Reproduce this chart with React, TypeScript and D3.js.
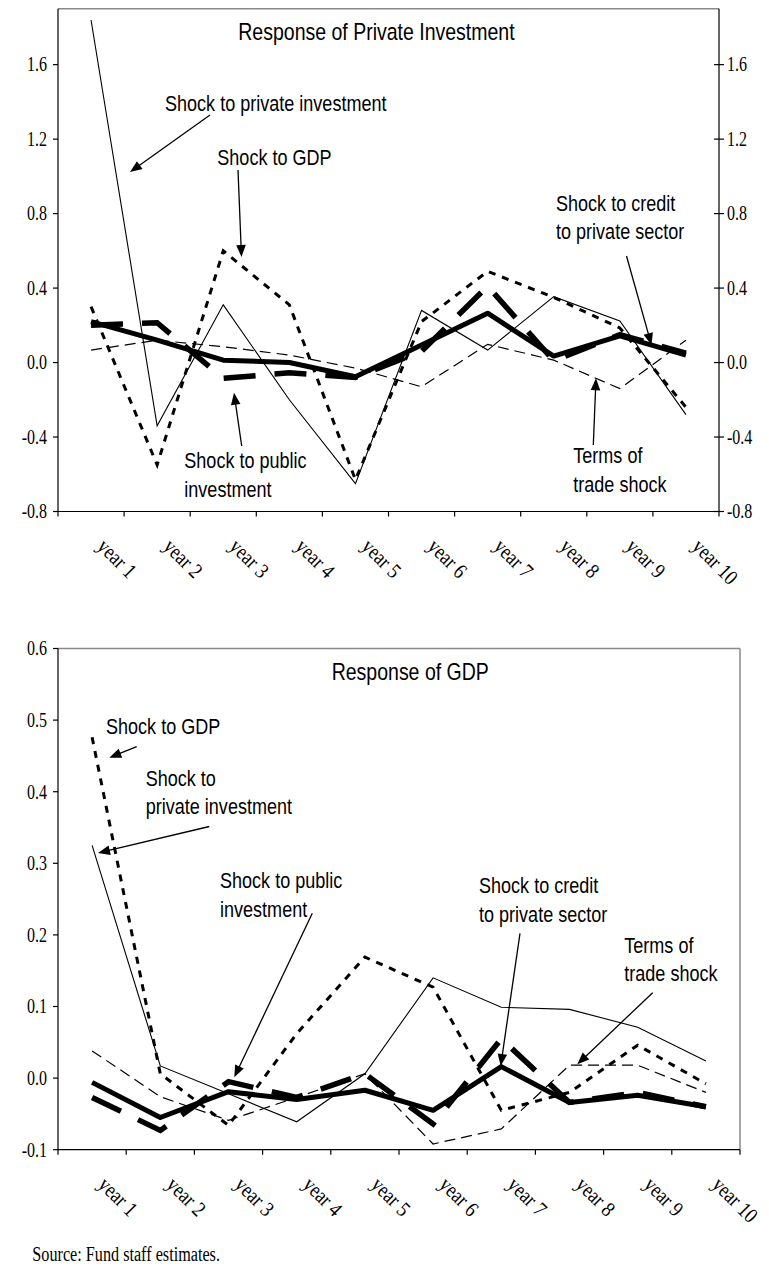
import React from 'react';
import * as d3 from 'd3';

// ---------- data ----------
const years = ['year 1', 'year 2', 'year 3', 'year 4', 'year 5', 'year 6', 'year 7', 'year 8', 'year 9', 'year 10'];

// Response of Private Investment
const piShockPrivInv = [1.84, -0.34, 0.31, -0.2, -0.65, 0.28, 0.067, 0.354, 0.223, -0.28];
const piShockGDP = [0.3, -0.55, 0.6, 0.31, -0.63, 0.22, 0.49, 0.35, 0.186, -0.24];
const piShockPubInv = [0.2, 0.214, -0.085, -0.055, -0.08, 0.06, 0.41, 0.01, 0.15, 0.05];
const piShockCredit = [0.22, 0.12, 0.013, 0.0, -0.076, 0.094, 0.265, 0.035, 0.143, 0.04];
const piShockToT = [0.067, 0.12, 0.085, 0.04, -0.03, -0.13, 0.098, 0.013, -0.14, 0.12];
const piTicks = [-0.8, -0.4, 0.0, 0.4, 0.8, 1.2, 1.6];

// Response of GDP
const gdpShockPrivInv = [0.325, 0.017, -0.022, -0.061, 0.006, 0.14, 0.099, 0.096, 0.071, 0.024];
const gdpShockGDP = [0.476, 0.006, -0.066, 0.062, 0.169, 0.127, -0.045, -0.02, 0.046, -0.008];
const gdpShockPubInv = [-0.027, -0.073, -0.005, -0.027, 0.006, -0.064, 0.055, -0.034, -0.02, -0.04];
const gdpShockCredit = [-0.006, -0.055, -0.019, -0.03, -0.017, -0.045, 0.016, -0.034, -0.024, -0.04];
const gdpShockToT = [0.038, -0.026, -0.059, -0.027, 0.006, -0.092, -0.071, 0.018, 0.018, -0.02];
const gdpTicks = [-0.1, 0.0, 0.1, 0.2, 0.3, 0.4, 0.5, 0.6];

// ---------- styles ----------
const SERIF = "'Liberation Serif','Times New Roman',serif";
const SANS = "'Liberation Sans',Arial,sans-serif";

type SeriesStyle = { width: number; dash?: string; join?: string };
const STYLE_PRIV: SeriesStyle = { width: 1.1 };
const STYLE_GDP: SeriesStyle = { width: 3, dash: '7,7' };
const STYLE_PUB: SeriesStyle = { width: 5.5, dash: '32,19' };
const STYLE_CREDIT: SeriesStyle = { width: 5, join: 'round' };
const STYLE_TOT: SeriesStyle = { width: 1.2, dash: '11,6' };

function Txt(props: {
  x: number; y: number; size: number; serif?: boolean; sx: number;
  anchor?: string; rotate?: number; children: React.ReactNode;
}) {
  const { x, y, size, serif, sx, anchor = 'start', rotate = 0, children } = props;
  return (
    <text
      transform={`translate(${x},${y}) rotate(${rotate}) scale(${sx},1)`}
      fontFamily={serif ? SERIF : SANS}
      fontSize={size}
      textAnchor={anchor}
      fill="#000"
    >
      {children}
    </text>
  );
}

type Ann = { lines: string[]; x: number; y: number; from: [number, number]; to: [number, number] };

function Arrow({ from, to }: { from: [number, number]; to: [number, number] }) {
  const dx = to[0] - from[0];
  const dy = to[1] - from[1];
  const len = Math.sqrt(dx * dx + dy * dy);
  const ux = dx / len, uy = dy / len;
  const hl = 12, hw = 4.8;
  const bx = to[0] - ux * hl, by = to[1] - uy * hl;
  const p1 = [bx - uy * hw, by + ux * hw];
  const p2 = [bx + uy * hw, by - ux * hw];
  return (
    <g>
      <line x1={from[0]} y1={from[1]} x2={bx + ux * 2} y2={by + uy * 2} stroke="#000" strokeWidth={1.3} />
      <polygon points={`${to[0]},${to[1]} ${p1[0]},${p1[1]} ${p2[0]},${p2[1]}`} fill="#000" />
    </g>
  );
}

type ChartProps = {
  x0: number; x1: number; yTop: number; yBottom: number;
  domain: [number, number]; ticks: number[];
  series: { values: number[]; style: SeriesStyle }[];
  rightAxis: boolean;
  title: string; titleX: number; titleY: number;
  annotations: Ann[];
};

function Chart(p: ChartProps) {
  const x = d3.scaleBand<string>().domain(years).range([p.x0, p.x1]).padding(0);
  const y = d3.scaleLinear().domain(p.domain).range([p.yBottom, p.yTop]);
  const cx = (i: number) => (x(years[i]) as number) + x.bandwidth() / 2;
  const line = d3.line<number>().x((_, i) => cx(i)).y((d) => y(d));
  const boundaries = years.map((yr) => x(yr) as number).concat([p.x1]);
  const fmt = (v: number) => (Math.abs(v) < 1e-9 ? '0.0' : v.toFixed(1));
  const axisY = p.yBottom;

  return (
    <g>
      {/* frame */}
      <line x1={p.x0} y1={p.yTop} x2={p.x1} y2={p.yTop} stroke="#888" strokeWidth={1.5} />
      {p.rightAxis ? (
        <line x1={p.x1} y1={p.yTop} x2={p.x1} y2={axisY} stroke="#000" strokeWidth={1.2} />
      ) : (
        <line x1={p.x1} y1={p.yTop} x2={p.x1} y2={axisY} stroke="#888" strokeWidth={1.5} />
      )}
      <line x1={p.x0} y1={p.yTop} x2={p.x0} y2={axisY} stroke="#000" strokeWidth={1.2} />
      <line x1={p.x0} y1={axisY} x2={p.x1} y2={axisY} stroke="#000" strokeWidth={1.2} />

      {/* y ticks */}
      {p.ticks.map((t) => (
        <g key={'yt' + t}>
          <line x1={p.x0 - 5} x2={p.x0} y1={y(t)} y2={y(t)} stroke="#000" strokeWidth={1.2} />
          <Txt x={p.x0 - 11} y={y(t) + 6.8} size={20} serif sx={0.8} anchor="end">{fmt(t)}</Txt>
          {p.rightAxis && (
            <g>
              <line x1={p.x1 - 5} x2={p.x1 + 5} y1={y(t)} y2={y(t)} stroke="#000" strokeWidth={1.2} />
              <Txt x={p.x1 + 8} y={y(t) + 6.8} size={20} serif sx={0.8}>{fmt(t)}</Txt>
            </g>
          )}
        </g>
      ))}

      {/* x ticks */}
      {boundaries.map((b, i) => (
        <line key={'xt' + i} x1={b} x2={b} y1={axisY} y2={axisY + 5} stroke="#000" strokeWidth={1.2} />
      ))}
      {years.map((yr, i) => (
        <Txt key={'xl' + yr} x={cx(i) + 5} y={axisY + 36} size={21.5} serif sx={0.85} rotate={45}>{yr}</Txt>
      ))}

      {/* series */}
      {p.series.map((s, i) => (
        <path
          key={'s' + i}
          d={line(s.values) as string}
          fill="none"
          stroke="#000"
          strokeWidth={s.style.width}
          strokeDasharray={s.style.dash}
          strokeLinejoin={(s.style.join as any) || 'miter'}
          strokeLinecap="butt"
        />
      ))}

      {/* title */}
      <Txt x={p.titleX} y={p.titleY} size={23.5} sx={0.83}>{p.title}</Txt>

      {/* annotations */}
      {p.annotations.map((a, i) => (
        <g key={'a' + i}>
          {a.lines.map((ln, j) => (
            <Txt key={j} x={a.x} y={a.y + j * 28.4} size={22} sx={0.82}>{ln}</Txt>
          ))}
          <Arrow from={a.from} to={a.to} />
        </g>
      ))}
    </g>
  );
}

const topAnnotations: Ann[] = [
  { lines: ['Shock to private investment'], x: 165, y: 111, from: [210, 115], to: [130, 172] },
  { lines: ['Shock to GDP'], x: 217.3, y: 165, from: [238, 170], to: [241.5, 257] },
  { lines: ['Shock to credit', 'to private sector'], x: 556, y: 211, from: [626.5, 256], to: [651.5, 345] },
  { lines: ['Shock to public', 'investment'], x: 184.3, y: 468.3, from: [241.7, 446], to: [234, 392.7] },
  { lines: ['Terms of', 'trade shock'], x: 573.3, y: 463.3, from: [593.3, 445], to: [596, 378.3] },
];

const bottomAnnotations: Ann[] = [
  { lines: ['Shock to GDP'], x: 106, y: 734, from: [136.7, 746.7], to: [109.3, 757.7] },
  { lines: ['Shock to', 'private investment'], x: 145.7, y: 786, from: [209.3, 826.5], to: [98, 853] },
  { lines: ['Shock to public', 'investment'], x: 220, y: 888.3, from: [312.3, 913.3], to: [234.3, 1077.3] },
  { lines: ['Shock to credit', 'to private sector'], x: 479, y: 893.3, from: [520, 933.3], to: [500.7, 1066] },
  { lines: ['Terms of', 'trade shock'], x: 624.3, y: 952.7, from: [652.7, 992.7], to: [577.3, 1064.3] },
];

export default function App() {
  return (
    <svg
      width={769}
      height={1287}
      viewBox="0 0 769 1287"
      style={{ position: 'absolute', left: 0, top: 0, background: '#fff' }}
    >
      <rect x={0} y={0} width={769} height={1287} fill="#fff" />
      <Chart
        x0={58} x1={719} yTop={8.8} yBottom={511.5}
        domain={[-0.8, 1.9]} ticks={piTicks}
        rightAxis={true}
        title="Response of Private Investment" titleX={238.3} titleY={40}
        series={[
          { values: piShockToT, style: STYLE_TOT },
          { values: piShockPrivInv, style: STYLE_PRIV },
          { values: piShockGDP, style: STYLE_GDP },
          { values: piShockPubInv, style: STYLE_PUB },
          { values: piShockCredit, style: STYLE_CREDIT },
        ]}
        annotations={topAnnotations}
      />
      <Chart
        x0={58} x1={740} yTop={648.5} yBottom={1149.7}
        domain={[-0.1, 0.6]} ticks={gdpTicks}
        rightAxis={false}
        title="Response of GDP" titleX={331.7} titleY={680}
        series={[
          { values: gdpShockToT, style: STYLE_TOT },
          { values: gdpShockPrivInv, style: STYLE_PRIV },
          { values: gdpShockGDP, style: STYLE_GDP },
          { values: gdpShockPubInv, style: STYLE_PUB },
          { values: gdpShockCredit, style: STYLE_CREDIT },
        ]}
        annotations={bottomAnnotations}
      />
      <Txt x={32.3} y={1261} size={20} serif sx={0.81}>Source: Fund staff estimates.</Txt>
    </svg>
  );
}
